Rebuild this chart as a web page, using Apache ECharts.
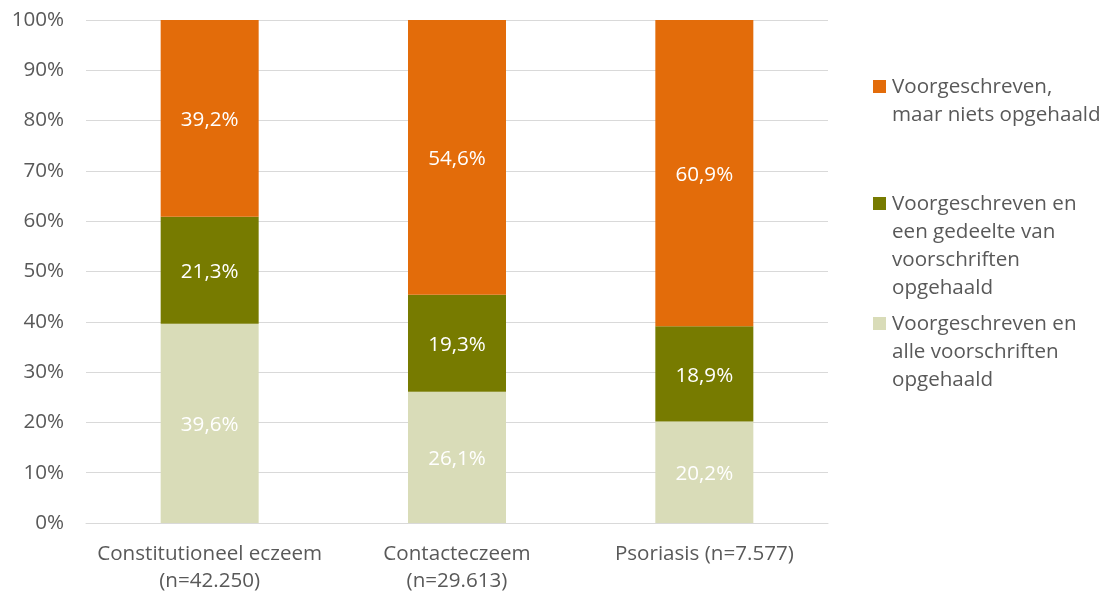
<!DOCTYPE html>
<html><head><meta charset="utf-8">
<script src="https://cdn.jsdelivr.net/npm/echarts@6/dist/echarts.min.js"></script>
<style>html,body{margin:0;padding:0;background:#fff}#c{width:1105px;height:593px}</style>
</head><body><div id="c"></div>
<script>
const categories = ['Constitutioneel eczeem\n(n=42.250)', 'Contacteczeem\n(n=29.613)', 'Psoriasis (n=7.577)'];
const allePicked = [39.6, 26.1, 20.2];
const deelPicked = [21.3, 19.3, 18.9];
const nietsPicked = [39.2, 54.6, 60.9];
const seriesNames = ['Voorgeschreven en alle voorschriften opgehaald', 'Voorgeschreven en een gedeelte van voorschriften opgehaald', 'Voorgeschreven, maar niets opgehaald'];
const legendLines = [
  ['Voorgeschreven,', 'maar niets opgehaald'],
  ['Voorgeschreven en', 'een gedeelte van', 'voorschriften', 'opgehaald'],
  ['Voorgeschreven en', 'alle voorschriften', 'opgehaald']
];
const yTicks = [0, 10, 20, 30, 40, 50, 60, 70, 80, 90, 100];

const colors = ['#D9DCB8', '#777B00', '#E36C0A'];
const font = 'Open Sans';
const fs = 20.6;
const chart = echarts.init(document.getElementById('c'));
const fmtLabel = p => p.value.toFixed(1).replace('.', ',') + '%';
const mk = (name, data, color) => ({
  name, type: 'bar', stack: 'a', data, barWidth: 98,
  itemStyle: { color },
  label: { show: true, position: 'inside', offset: [0, 2], color: '#fff', fontFamily: font, fontSize: fs, formatter: fmtLabel }
});
const legendColors = [colors[2], colors[1], colors[0]];
const legendTops = [73, 190, 310];
const graphic = [];
legendLines.forEach((lines, i) => {
  graphic.push({ type: 'rect', left: 873, top: legendTops[i] + 7, shape: { width: 13, height: 13 }, style: { fill: legendColors[i] } });
  graphic.push({ type: 'text', left: 892, top: legendTops[i], style: { text: lines.join('\n'), font: fs + 'px "' + font + '"', lineHeight: 28, fill: '#595959' } });
});
chart.setOption({
  animation: false,
  grid: { left: 86, right: 277, top: 20, bottom: 70, containLabel: false, outerBoundsMode: 'none' },
  xAxis: {
    type: 'category', data: categories,
    axisLine: { lineStyle: { color: '#D9D9D9' } },
    axisTick: { show: false },
    axisLabel: { color: '#595959', fontFamily: font, fontSize: fs, lineHeight: 27, margin: 18, interval: 0, hideOverlap: false }
  },
  yAxis: {
    type: 'value', min: 0, max: 100, interval: 10,
    axisLabel: { color: '#595959', fontFamily: font, fontSize: fs, margin: 22, formatter: v => v + '%' },
    splitLine: { lineStyle: { color: '#D9D9D9' } },
    axisLine: { show: false }, axisTick: { show: false }
  },
  graphic,
  series: [mk(seriesNames[0], allePicked, colors[0]), mk(seriesNames[1], deelPicked, colors[1]), mk(seriesNames[2], nietsPicked, colors[2])]
});
</script></body></html>
